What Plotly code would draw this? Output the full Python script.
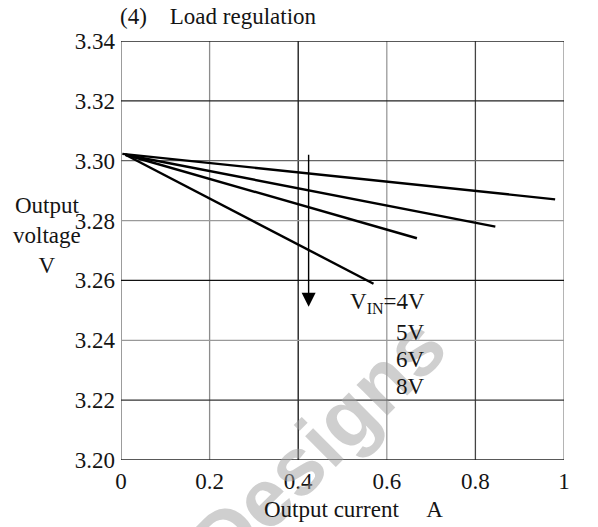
import plotly.graph_objects as go

# Load regulation: output voltage vs output current for several input voltages
vin_labels = ["4V", "5V", "6V", "8V"]

current_4v = [0.01, 0.10, 0.20, 0.30, 0.40, 0.50, 0.57]
voltage_4v = [3.3020, 3.2951, 3.2874, 3.2797, 3.2720, 3.2643, 3.2589]

current_5v = [0.01, 0.20, 0.40, 0.60, 0.668]
voltage_5v = [3.3020, 3.2939, 3.2855, 3.2770, 3.2741]

current_6v = [0.01, 0.20, 0.40, 0.60, 0.845]
voltage_6v = [3.3020, 3.2965, 3.2908, 3.2850, 3.2780]

current_8v = [0.003, 0.20, 0.40, 0.60, 0.80, 0.98]
voltage_8v = [3.3023, 3.2992, 3.2961, 3.2930, 3.2899, 3.2871]

x_ticks = [0, 0.2, 0.4, 0.6, 0.8, 1.0]
x_tick_text = ["0", "0.2", "0.4", "0.6", "0.8", "1"]
y_ticks = [3.20, 3.22, 3.24, 3.26, 3.28, 3.30, 3.32, 3.34]
y_tick_text = ["3.20", "3.22", "3.24", "3.26", "3.28", "3.30", "3.32", "3.34"]

# printed grid has uneven ink density
x_grid_colors = ["#666666", "#8c8c8c", "#111111", "#9a9a9a", "#444444", "#8c8c8c"]
y_grid_colors = ["#222222", "#333333", "#999999", "#111111", "#9a9a9a", "#666666", "#222222", "#222222"]

# arrow showing increasing input voltage
arrow_x = 0.4235
arrow_top = 3.3025
arrow_tip = 3.2512

FONT = "Liberation Serif, Times New Roman, serif"
TXT = "#141414"
FS = 23

fig = go.Figure()
series = [(current_4v, voltage_4v), (current_5v, voltage_5v),
          (current_6v, voltage_6v), (current_8v, voltage_8v)]
for (cx, vy), name in zip(series, vin_labels):
    fig.add_trace(go.Scatter(x=cx, y=vy, mode="lines", name=name,
                             line=dict(color="black", width=2.4),
                             showlegend=False, hoverinfo="skip"))

shapes = []
for xv, col in zip(x_ticks, x_grid_colors):
    shapes.append(dict(type="line", xref="x", yref="y", x0=xv, x1=xv,
                       y0=y_ticks[0], y1=y_ticks[-1],
                       line=dict(color=col, width=1.3), layer="below"))
for yv, col in zip(y_ticks, y_grid_colors):
    shapes.append(dict(type="line", xref="x", yref="y", x0=x_ticks[0], x1=x_ticks[-1],
                       y0=yv, y1=yv,
                       line=dict(color=col, width=1.3), layer="below"))

annotations = [
    # faint diagonal watermark (drawn first so the labels sit on top)
    dict(text="<b>Designs</b>", xref="paper", yref="paper",
         x=0.445, y=0.036, xanchor="center", yanchor="middle",
         textangle=-45, showarrow=False,
         font=dict(family="Liberation Sans, Arial, sans-serif", size=82,
                   color="rgba(160,160,160,0.5)")),
    # title
    dict(text="(4)&nbsp;&nbsp;&nbsp; Load regulation", xref="paper", yref="paper",
         x=-0.007, y=1.058, xanchor="left", yanchor="middle", showarrow=False,
         font=dict(family=FONT, size=FS, color=TXT)),
    # y axis title
    dict(text="Output<br>voltage<br>V", xref="paper", yref="paper",
         x=-0.166, y=0.535, xanchor="center", yanchor="middle", showarrow=False,
         align="center", font=dict(family=FONT, size=FS, color=TXT)),
    # x axis title
    dict(text="Output current&nbsp;&nbsp;&nbsp;&nbsp; A", xref="paper", yref="paper",
         x=0.525, y=-0.119, xanchor="center", yanchor="middle", showarrow=False,
         font=dict(family=FONT, size=FS, color=TXT)),
    # direction arrow
    dict(x=arrow_x, y=arrow_tip, ax=arrow_x, ay=arrow_top, xref="x", yref="y",
         axref="x", ayref="y", text="", showarrow=True, arrowhead=2,
         arrowsize=2.0, arrowwidth=1.4, arrowcolor="black", standoff=0),
]

label_y = [3.2525, 3.2425, 3.2335, 3.2245]
label_text = ["V<sub>IN</sub>=" + vin_labels[0]] + vin_labels[1:]
for t, yv in zip(label_text, label_y):
    annotations.append(dict(text=t, xref="x", yref="y", x=0.69, y=yv,
                            xanchor="right", yanchor="middle", showarrow=False,
                            font=dict(family=FONT, size=FS, color=TXT)))

fig.update_layout(
    width=598, height=527,
    margin=dict(l=121, r=34, t=41, b=67),
    paper_bgcolor="white", plot_bgcolor="white",
    shapes=shapes, annotations=annotations,
    font=dict(family=FONT, size=FS, color=TXT),
)
fig.update_xaxes(range=[0, 1], tickvals=x_ticks, ticktext=x_tick_text,
                 showgrid=False, zeroline=False, showline=False,
                 ticks="", ticklabelstandoff=5,
                 tickfont=dict(family=FONT, size=FS, color=TXT))
fig.update_yaxes(range=[3.20, 3.34], tickvals=y_ticks, ticktext=y_tick_text,
                 showgrid=False, zeroline=False, showline=False,
                 ticks="", ticklabelstandoff=5,
                 tickfont=dict(family=FONT, size=FS, color=TXT))

fig.write_html("out.html")
